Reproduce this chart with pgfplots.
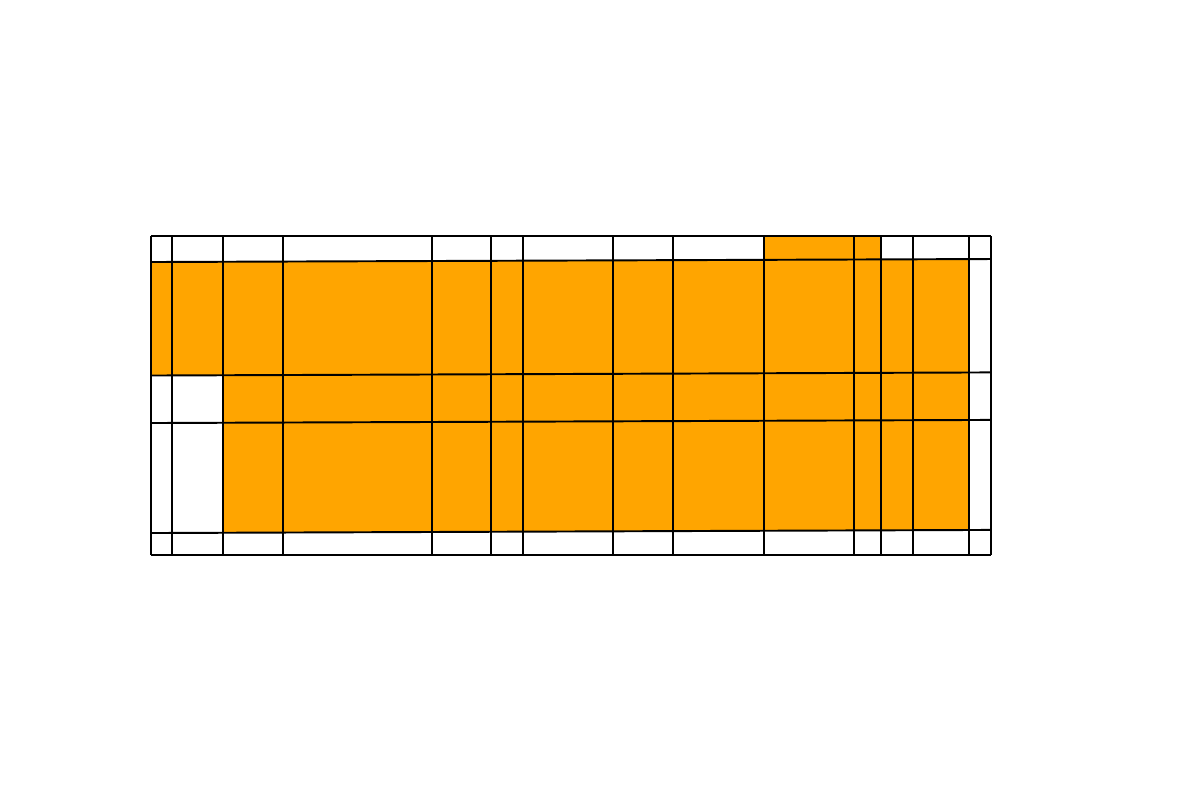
\documentclass[border=0pt]{standalone}
\usepackage{pgfplots}
\pgfplotsset{compat=1.18}
\definecolor{cellorange}{HTML}{FFA500}
\begin{document}
\begin{tikzpicture}
\begin{axis}[
  scale only axis, width=12.02cm, height=7.86cm,
  xmin=0, xmax=1202, ymin=0, ymax=786, y dir=reverse,
  hide axis, clip=false,
  every axis plot/.append style={line width=0.55pt},
]
% orange filled region
\addplot[fill=cellorange, draw=none] coordinates {
 (151.3,262) (764.3,259.8) (764.3,236.3) (881.3,236.3) (881.3,259.4)
 (969.3,259.1) (969.3,530.1) (223.3,532.7) (223.3,375.2) (151.3,375.5)} -- cycle;
% horizontal lines
\addplot[black] coordinates {(151.3,236.3) (991,236.3)};
\addplot[black] coordinates {(151.3,262.0) (991,259.0)};
\addplot[black] coordinates {(151.3,375.5) (991,372.4)};
\addplot[black] coordinates {(151.3,423.0) (991,419.9)};
\addplot[black] coordinates {(151.3,533.0) (991,529.9)};
\addplot[black] coordinates {(151.3,555.0) (991,555.0)};
% vertical lines
\addplot[black] coordinates {(151.3,236.3) (151.3,555)};
\addplot[black] coordinates {(171.7,236.3) (171.7,555)};
\addplot[black] coordinates {(223.3,236.3) (223.3,555)};
\addplot[black] coordinates {(282.7,236.3) (282.7,555)};
\addplot[black] coordinates {(432.3,236.3) (432.3,555)};
\addplot[black] coordinates {(491.3,236.3) (491.3,555)};
\addplot[black] coordinates {(523.0,236.3) (523.0,555)};
\addplot[black] coordinates {(613.3,236.3) (613.3,555)};
\addplot[black] coordinates {(673.3,236.3) (673.3,555)};
\addplot[black] coordinates {(764.3,236.3) (764.3,555)};
\addplot[black] coordinates {(853.7,236.3) (853.7,555)};
\addplot[black] coordinates {(881.3,236.3) (881.3,555)};
\addplot[black] coordinates {(913.3,236.3) (913.3,555)};
\addplot[black] coordinates {(969.3,236.3) (969.3,555)};
\addplot[black] coordinates {(991.0,236.3) (991.0,555)};
\end{axis}
\path (current axis.south west) rectangle (current axis.north east);
\end{tikzpicture}
\end{document}
